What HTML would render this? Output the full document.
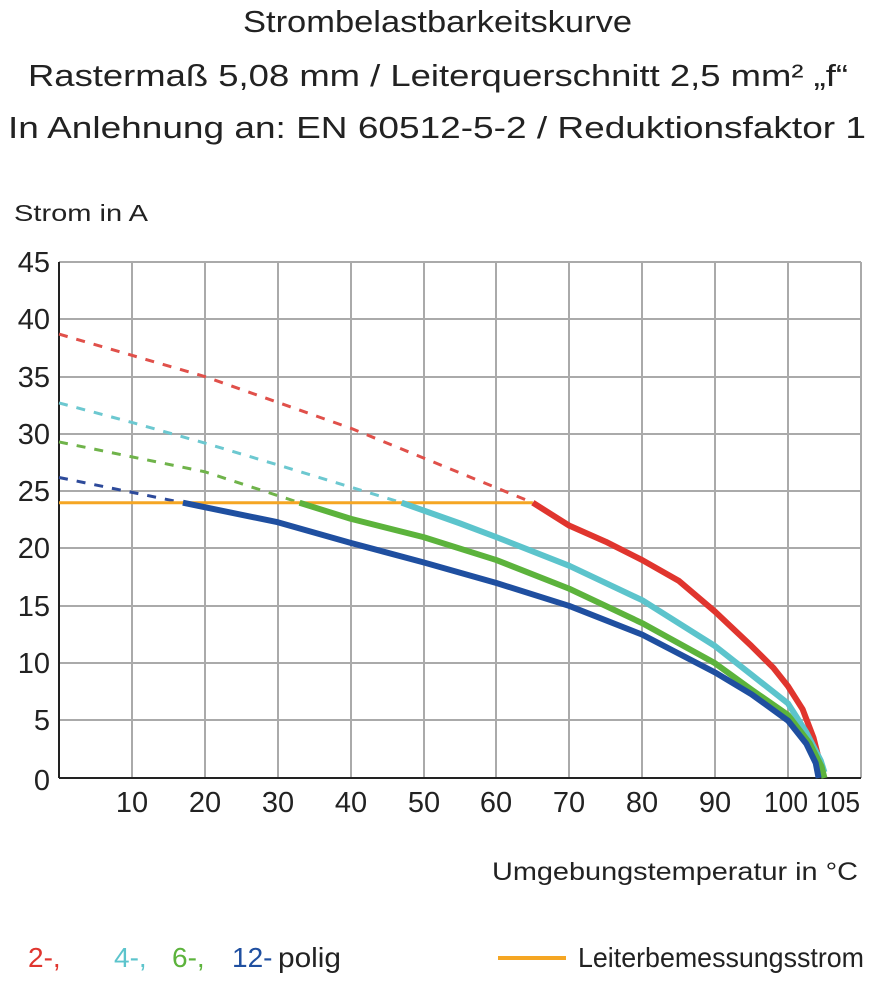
<!DOCTYPE html>
<html><head><meta charset="utf-8"><style>
body{margin:0;background:#fff;}
svg text{font-family:"Liberation Sans","DejaVu Sans",sans-serif;}
</style></head><body>
<svg width="894" height="1000" viewBox="0 0 894 1000" xmlns="http://www.w3.org/2000/svg">
<g fill="#222" font-size="31">
<text x="243" y="32" textLength="389" lengthAdjust="spacingAndGlyphs">Strombelastbarkeitskurve</text>
<text x="28" y="86" textLength="820" lengthAdjust="spacingAndGlyphs">Rastermaß 5,08 mm / Leiterquerschnitt 2,5 mm² „f“</text>
<text x="8" y="138" textLength="858" lengthAdjust="spacingAndGlyphs">In Anlehnung an: EN 60512-5-2 / Reduktionsfaktor 1</text>
</g>
<text x="14" y="221" font-size="23" fill="#222" textLength="134" lengthAdjust="spacingAndGlyphs">Strom in A</text>
<g stroke="#aaa" stroke-width="2">
<line x1="132" y1="262" x2="132" y2="778"/><line x1="205" y1="262" x2="205" y2="778"/>
<line x1="278" y1="262" x2="278" y2="778"/><line x1="351" y1="262" x2="351" y2="778"/>
<line x1="424" y1="262" x2="424" y2="778"/><line x1="496" y1="262" x2="496" y2="778"/>
<line x1="569" y1="262" x2="569" y2="778"/><line x1="642" y1="262" x2="642" y2="778"/>
<line x1="715" y1="262" x2="715" y2="778"/><line x1="788" y1="262" x2="788" y2="778"/>
<line x1="861" y1="262" x2="861" y2="778"/>
<line x1="59" y1="262" x2="861" y2="262"/><line x1="59" y1="319" x2="861" y2="319"/>
<line x1="59" y1="377" x2="861" y2="377"/><line x1="59" y1="434" x2="861" y2="434"/>
<line x1="59" y1="491" x2="861" y2="491"/><line x1="59" y1="548" x2="861" y2="548"/>
<line x1="59" y1="606" x2="861" y2="606"/><line x1="59" y1="663" x2="861" y2="663"/>
<line x1="59" y1="720" x2="861" y2="720"/>
</g>
<g stroke="#222" stroke-width="2"><line x1="59" y1="262" x2="59" y2="778"/><line x1="59" y1="778" x2="861" y2="778"/></g>
<g fill="#222" font-size="29" text-anchor="end">
<text x="50" y="272">45</text><text x="50" y="329">40</text><text x="50" y="387">35</text>
<text x="50" y="444">30</text><text x="50" y="501">25</text><text x="50" y="558">20</text>
<text x="50" y="616">15</text><text x="50" y="673">10</text><text x="50" y="730">5</text>
<text x="50" y="790">0</text>
</g>
<g fill="#222" font-size="29" text-anchor="middle">
<text x="132" y="812">10</text><text x="205" y="812">20</text><text x="278" y="812">30</text>
<text x="351" y="812">40</text><text x="424" y="812">50</text><text x="496" y="812">60</text>
<text x="569" y="812">70</text><text x="642" y="812">80</text><text x="715" y="812">90</text>
<text x="786" y="812" textLength="44" lengthAdjust="spacingAndGlyphs">100</text><text x="838" y="812" textLength="44" lengthAdjust="spacingAndGlyphs">105</text>
</g>
<g transform="translate(59,778) scale(7.29,-11.47)" fill="none" stroke-linecap="butt" stroke-linejoin="round">
<polyline vector-effect="non-scaling-stroke" stroke="#e0504a" stroke-width="3" stroke-dasharray="9 9" points="0,38.7 20,35 40,30.5 65,24"/>
<polyline vector-effect="non-scaling-stroke" stroke="#6cc8d0" stroke-width="3" stroke-dasharray="9 9" points="0,32.7 10,31 20,29.2 30,27.3 47,24"/>
<polyline vector-effect="non-scaling-stroke" stroke="#6fb34a" stroke-width="3" stroke-dasharray="9 9" points="0,29.3 20,26.7 33,24"/>
<polyline vector-effect="non-scaling-stroke" stroke="#2d4a9a" stroke-width="3" stroke-dasharray="9 9" points="0,26.2 17,24"/>
<polyline vector-effect="non-scaling-stroke" stroke="#f5a623" stroke-width="3" points="0,24 65,24"/>
<polyline vector-effect="non-scaling-stroke" stroke="#e0352e" stroke-width="6" points="65,24 70,22 75,20.6 80,19 85,17.2 90,14.5 95,11.5 98,9.6 100,8 102,6 103.5,3.5 104.5,1 105,0.5"/>
<polyline vector-effect="non-scaling-stroke" stroke="#5cc4cc" stroke-width="6" points="47,24 55,22.2 60,21 70,18.5 80,15.5 90,11.5 95,9 100,6.5 102.5,4 104.5,1.5 105,0.5"/>
<polyline vector-effect="non-scaling-stroke" stroke="#5cb33c" stroke-width="6" points="33,24 40,22.6 50,21 60,19 70,16.5 80,13.5 90,10 95,7.7 100,5.5 103,3 104.6,1 105,0"/>
<polyline vector-effect="non-scaling-stroke" stroke="#1f4fa0" stroke-width="6" points="17,24 30,22.3 40,20.5 50,18.8 60,17 70,15 80,12.5 90,9.2 95,7.3 100,5 102.5,3 103.8,1.3 104.2,0"/>
</g>
<text x="492" y="880" font-size="25" fill="#222" textLength="366" lengthAdjust="spacingAndGlyphs">Umgebungstemperatur in °C</text>
<g font-size="28">
<text x="28" y="967" fill="#e0352e">2-,</text>
<text x="114" y="967" fill="#5cc4cc">4-,</text>
<text x="172" y="967" fill="#5cb33c">6-,</text>
<text x="232" y="967" fill="#1f4fa0">12-</text>
<text x="278" y="967" fill="#222" textLength="63" lengthAdjust="spacingAndGlyphs">polig</text>
<line x1="498" y1="958" x2="566" y2="958" stroke="#f5a623" stroke-width="4"/>
<text x="578" y="967" fill="#222" textLength="286" lengthAdjust="spacingAndGlyphs">Leiterbemessungsstrom</text>
</g>
</svg>
</body></html>
